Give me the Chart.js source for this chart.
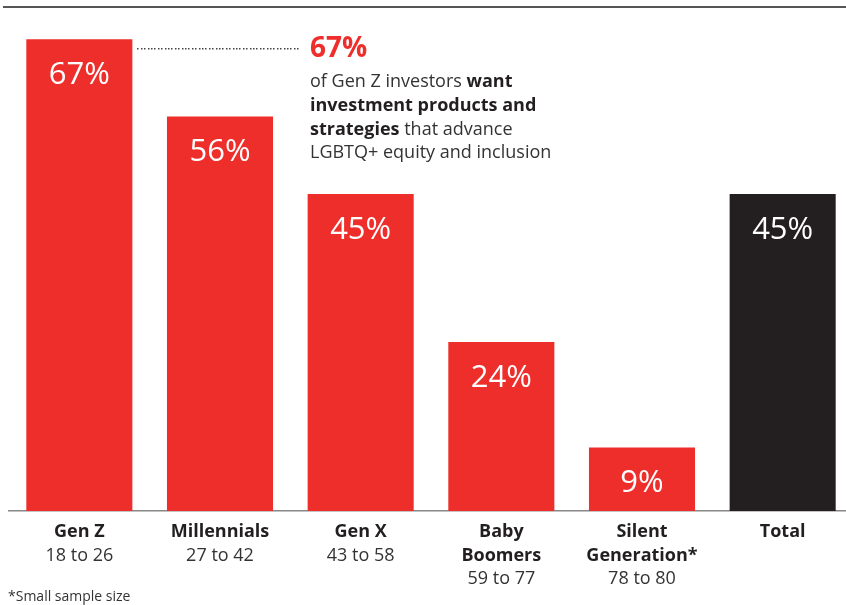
<!DOCTYPE html>
<html><head><meta charset="utf-8">
<script src="https://cdn.jsdelivr.net/npm/chart.js@4.4.1/dist/chart.umd.min.js"></script>
<style>
html,body{margin:0;padding:0;background:#fff;overflow:hidden;width:846px;height:605px}
#wrap{position:absolute;left:0;top:0;width:854px;height:605px}
</style></head>
<body>
<div id="wrap"><canvas id="c" width="854" height="605"></canvas></div>
<script>
const categories = [["Gen Z"], ["Millennials"], ["Gen X"], ["Baby", "Boomers"], ["Silent", "Generation*"], ["Total"]];
const ageRanges = ["18 to 26", "27 to 42", "43 to 58", "59 to 77", "78 to 80", ""];
const values = [67, 56, 45, 24, 9, 45];
const valueLabels = ["67%", "56%", "45%", "24%", "9%", "45%"];
const calloutValue = "67%";
const calloutLines = [
  [["of Gen Z investors ", false], ["want", true]],
  [["investment products and", true]],
  [["strategies", true], [" that advance", false]],
  [["LGBTQ+ equity and inclusion", false]]
];
const footnote = "*Small sample size";

const RED = "#ee2e2a", DARK = "#231f20";
const FONT = "'Open Sans', 'Noto Sans', sans-serif";

const decor = {
  id: 'decor',
  afterDraw(chart) {
    const ctx = chart.ctx;
    const x = chart.scales.x, y = chart.scales.y;
    const meta = chart.getDatasetMeta(0);
    ctx.save();
    // top rule
    ctx.fillStyle = "#555";
    ctx.fillRect(3, 6, 851, 2);
    // value labels
    ctx.fillStyle = "#fff";
    ctx.font = "400 31px " + FONT;
    ctx.textAlign = "center";
    ctx.textBaseline = "middle";
    meta.data.forEach((bar, i) => {
      ctx.fillText(valueLabels[i], bar.x, bar.y + 36);
    });
    // category labels
    categories.forEach((lines, i) => {
      const cx = x.getPixelForValue(i);
      let ly = y.bottom + 21;
      ctx.fillStyle = DARK;
      ctx.font = "700 18px " + FONT;
      lines.forEach(l => { ctx.fillText(l, cx, ly); ly += 23.5; });
      if (ageRanges[i]) {
        ctx.fillStyle = "#333";
        ctx.font = "400 18px " + FONT;
        ctx.fillText(ageRanges[i], cx, ly);
      }
    });
    // footnote
    ctx.textAlign = "left";
    ctx.fillStyle = "#333";
    ctx.font = "400 14px " + FONT;
    ctx.fillText(footnote, 8, 597);
    // callout dotted leader
    const b0 = meta.data[0];
    const ly0 = b0.y + 9;
    ctx.fillStyle = "#444";
    for (let px = b0.x + b0.width / 2 + 5; px < 298; px += 3.4) {
      ctx.fillRect(Math.round(px), Math.round(ly0), 1.5, 1.5);
    }
    // callout text
    const tx = 310;
    ctx.fillStyle = RED;
    ctx.font = "700 28px " + FONT;
    ctx.fillText(calloutValue, tx, ly0 + 1);
    let ty = ly0 + 34;
    calloutLines.forEach(line => {
      let cx = tx;
      line.forEach(([t, bold]) => {
        ctx.font = (bold ? "700 " : "400 ") + "18px " + FONT;
        ctx.fillStyle = bold ? DARK : "#333";
        ctx.fillText(t, cx, ty);
        cx += ctx.measureText(t).width;
      });
      ty += 23.7;
    });
    ctx.restore();
  }
};

new Chart(document.getElementById('c'), {
  type: 'bar',
  data: {
    labels: categories.map(c => c.join(' ')),
    datasets: [{
      data: values,
      backgroundColor: values.map((v, i) => i === values.length - 1 ? DARK : RED),
      borderWidth: 0,
      categoryPercentage: 1,
      barPercentage: 0.754
    }]
  },
  options: {
    responsive: false,
    animation: false,
    events: [],
    layout: { padding: { left: 9, right: 1, top: 18, bottom: 94 } },
    plugins: { legend: { display: false }, tooltip: { enabled: false } },
    scales: {
      x: {
        grid: { display: false, drawTicks: false },
        border: { display: true, color: "#888", width: 1.5 },
        ticks: { display: false }
      },
      y: {
        display: false,
        min: 0, max: 70
      }
    }
  },
  plugins: [decor]
});
</script>
</body></html>
